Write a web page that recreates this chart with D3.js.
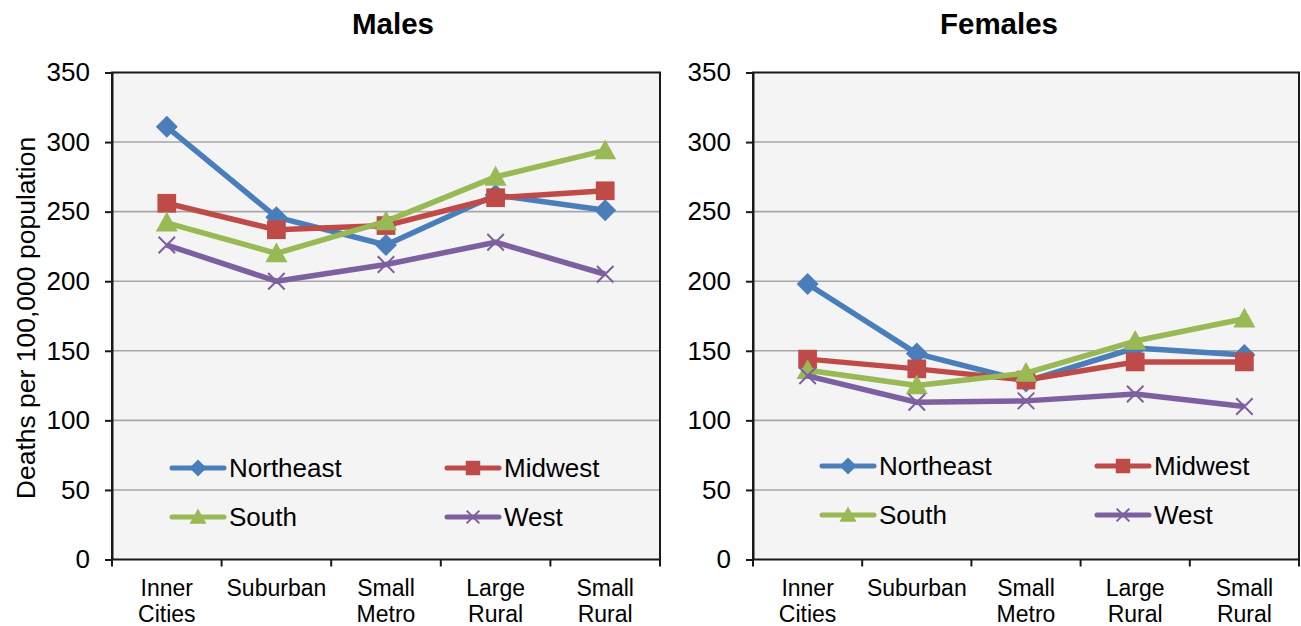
<!DOCTYPE html>
<html>
<head>
<meta charset="utf-8">
<script src="https://cdn.jsdelivr.net/npm/d3@7.9.0/dist/d3.min.js"></script>
<style>
  body { margin: 0; background: #fff; }
  svg { display: block; font-family: "Liberation Sans", Arial, sans-serif; }
</style>
</head>
<body>
<svg id="chart" width="1301" height="626"></svg>
<script>
// categories (multi-line labels)
const categories = ["Inner Cities", "Suburban", "Small Metro", "Large Rural", "Small Rural"];
const categoryLines = [["Inner", "Cities"], ["Suburban"], ["Small", "Metro"], ["Large", "Rural"], ["Small", "Rural"]];
const regions = ["Northeast", "Midwest", "South", "West"];
const yTicks = [0, 50, 100, 150, 200, 250, 300, 350];

// Males, deaths per 100,000
const malesNortheast = [311, 246, 226, 262, 251];
const malesMidwest   = [256, 237, 240, 260, 265];
const malesSouth     = [242, 220, 243, 275, 294];
const malesWest      = [226, 200, 212, 228, 205];

// Females, deaths per 100,000
const femalesNortheast = [198, 148, 128, 152, 147];
const femalesMidwest   = [144, 137, 129, 142, 142];
const femalesSouth     = [136, 125, 134, 157, 173];
const femalesWest      = [132, 113, 114, 119, 110];

const colors = { Northeast: "#4a7ebb", Midwest: "#be4b48", South: "#98b954", West: "#7d60a0" };
const shapes = { Northeast: "diamond", Midwest: "square", South: "triangle", West: "x" };

const panels = [
  { title: "Males", titleX: 393, x0: 112, x1: 660, legendX: 172, legendY: [468, 517],
    series: [malesNortheast, malesMidwest, malesSouth, malesWest] },
  { title: "Females", titleX: 999, x0: 753, x1: 1299, legendX: 822, legendY: [466, 515],
    series: [femalesNortheast, femalesMidwest, femalesSouth, femalesWest] }
];

const plotTop = 72.5, plotBottom = 559.5;
const svg = d3.select("#chart");

function drawMarker(g, shape, color, size) {
  const s = size / 2;
  if (shape === "diamond") {
    g.append("path").attr("d", `M0,${-s}L${s},0L0,${s}L${-s},0Z`).attr("fill", color);
  } else if (shape === "square") {
    g.append("rect").attr("x", -s * 0.85).attr("y", -s * 0.85)
      .attr("width", s * 1.7).attr("height", s * 1.7).attr("fill", color);
  } else if (shape === "triangle") {
    g.append("path").attr("d", `M0,${-s}L${s},${s * 0.8}L${-s},${s * 0.8}Z`).attr("fill", color);
  } else {
    g.append("path").attr("d", `M${-s * 0.75},${-s * 0.75}L${s * 0.75},${s * 0.75}M${s * 0.75},${-s * 0.75}L${-s * 0.75},${s * 0.75}`)
      .attr("stroke", color).attr("stroke-width", 2).attr("fill", "none");
  }
}

panels.forEach(p => {
  const x = d3.scaleBand().domain(categories).range([p.x0, p.x1]);
  const y = d3.scaleLinear().domain([0, 350]).range([plotBottom, plotTop]);
  const g = svg.append("g");

  // plot background
  g.append("rect").attr("x", p.x0).attr("y", plotTop)
    .attr("width", p.x1 - p.x0).attr("height", plotBottom - plotTop)
    .attr("fill", "#f4f4f4");

  // gridlines
  g.append("g").selectAll("line").data(yTicks.filter(d => d > 0 && d < 350)).join("line")
    .attr("x1", p.x0).attr("x2", p.x1)
    .attr("y1", d => y(d)).attr("y2", d => y(d))
    .attr("stroke", "#a6a6a6").attr("stroke-width", 1.6);

  // border
  g.append("rect").attr("x", p.x0).attr("y", plotTop)
    .attr("width", p.x1 - p.x0).attr("height", plotBottom - plotTop)
    .attr("fill", "none").attr("stroke", "#1a1a1a").attr("stroke-width", 2);

  // y axis
  const yAxis = g.append("g").attr("transform", `translate(${p.x0},0)`)
    .call(d3.axisLeft(y).tickValues(yTicks).tickSizeInner(7).tickSizeOuter(0).tickPadding(15));
  yAxis.select(".domain").attr("stroke", "#1a1a1a").attr("stroke-width", 2);
  yAxis.selectAll(".tick line").attr("stroke", "#1a1a1a").attr("stroke-width", 2);
  yAxis.selectAll(".tick text").attr("font-size", 26).attr("fill", "#000")
    .attr("font-family", "Liberation Sans, Arial, sans-serif");

  // x ticks at band boundaries
  const bounds = categories.map(c => x(c)).concat([p.x1]);
  g.append("g").selectAll("line").data(bounds).join("line")
    .attr("x1", d => d).attr("x2", d => d)
    .attr("y1", plotBottom).attr("y2", plotBottom + 7)
    .attr("stroke", "#1a1a1a").attr("stroke-width", 2);

  // x labels
  const xl = g.append("g").selectAll("text").data(categories).join("text")
    .attr("x", d => x(d) + x.bandwidth() / 2)
    .attr("y", 596)
    .attr("text-anchor", "middle").attr("font-size", 23).attr("fill", "#000");
  xl.each(function(d, i) {
    categoryLines[i].forEach((line, j) => {
      d3.select(this).append("tspan")
        .attr("x", x(d) + x.bandwidth() / 2)
        .attr("dy", j === 0 ? 0 : 26)
        .text(line);
    });
  });

  // title
  g.append("text").attr("x", p.titleX).attr("y", 34)
    .attr("text-anchor", "middle").attr("font-size", 29.5).attr("font-weight", "bold")
    .text(p.title);

  // series lines + markers
  const line = d3.line().x((d, i) => x(categories[i]) + x.bandwidth() / 2).y(d => y(d));
  regions.forEach((r, k) => {
    const vals = p.series[k];
    g.append("path").datum(vals).attr("d", line)
      .attr("fill", "none").attr("stroke", colors[r]).attr("stroke-width", 5.5)
      .attr("stroke-linejoin", "round");
    vals.forEach((v, i) => {
      const m = g.append("g")
        .attr("transform", `translate(${x(categories[i]) + x.bandwidth() / 2},${y(v)})`);
      drawMarker(m, shapes[r], colors[r], 22);
    });
  });

  // legend
  regions.forEach((r, k) => {
    const lx = p.legendX + (k % 2) * 275;
    const ly = p.legendY[Math.floor(k / 2)];
    const lg = g.append("g").attr("transform", `translate(${lx},${ly})`);
    lg.append("line").attr("x1", 0).attr("x2", 52).attr("y1", 0).attr("y2", 0)
      .attr("stroke", colors[r]).attr("stroke-width", 5).attr("stroke-linecap", "round");
    const m = lg.append("g").attr("transform", "translate(26,0)");
    drawMarker(m, shapes[r], colors[r], 17);
    lg.append("text").attr("x", 57).attr("y", 9)
      .attr("font-size", 26).attr("fill", "#000").text(r);
  });
});

// y axis title
svg.append("text")
  .attr("transform", `translate(35,${(plotTop + plotBottom) / 2 + 2}) rotate(-90)`)
  .attr("text-anchor", "middle").attr("font-size", 26.5).attr("fill", "#000")
  .text("Deaths per 100,000 population");
</script>
</body>
</html>
